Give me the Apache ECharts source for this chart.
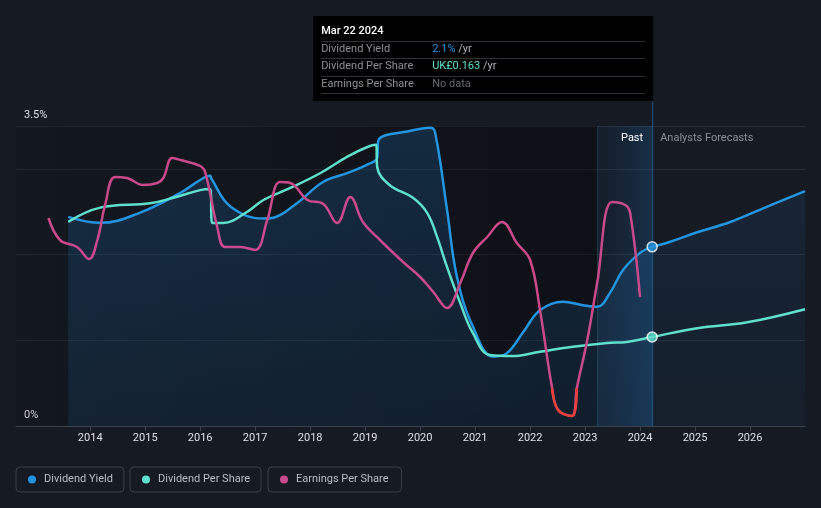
<!DOCTYPE html>
<html>
<head>
<meta charset="utf-8">
<script src="https://cdn.jsdelivr.net/npm/echarts@6/dist/echarts.min.js"></script>
<style>
html,body{margin:0;padding:0;background:#151a23;}
#chart{width:821px;height:508px;}
</style>
</head>
<body>
<div id="chart"></div>
<script>
// Year ticks shown on the x axis
const yearTicks = [2014, 2015, 2016, 2017, 2018, 2019, 2020, 2021, 2022, 2023, 2024, 2025, 2026];
// y axis labels (percent)
const yLabels = [0, 3.5];

// Dividend Yield (%) - past
const yieldPast = [
  [2013.6, 2.44], [2014.18, 2.37], [2014.91, 2.49], [2015.64, 2.72], [2016.0, 2.87],
  [2016.18, 2.92], [2016.2, 2.89], [2016.55, 2.56], [2017.15, 2.42], [2017.33, 2.43],
  [2017.76, 2.60], [2018.24, 2.85], [2018.67, 2.95], [2019.04, 3.05], [2019.22, 3.13],
  [2019.24, 3.33], [2019.87, 3.45], [2020.18, 3.48], [2020.27, 3.43], [2020.49, 2.52],
  [2020.67, 1.74], [2020.96, 1.16], [2021.33, 0.81], [2021.58, 0.85], [2021.87, 1.09],
  [2022.18, 1.35], [2022.6, 1.45], [2022.96, 1.41], [2023.22, 1.39], [2023.45, 1.55],
  [2023.69, 1.82], [2024.0, 2.02], [2024.22, 2.09]
];
// Dividend Yield (%) - analyst forecast
const yieldForecast = [
  [2024.22, 2.09], [2024.55, 2.15], [2025.04, 2.26], [2025.64, 2.38], [2026.24, 2.54], [2027.0, 2.74]
];
// Dividend Per Share (GBP)
const dpsPast = [
  [2013.6, 0.374], [2014.18, 0.400], [2015.09, 0.408], [2015.51, 0.418], [2016.0, 0.432],
  [2016.18, 0.434], [2016.22, 0.372], [2016.42, 0.372], [2016.85, 0.392], [2017.15, 0.414],
  [2017.64, 0.436], [2018.18, 0.463], [2018.67, 0.493], [2019.04, 0.511], [2019.2, 0.515],
  [2019.22, 0.474], [2019.45, 0.441], [2019.87, 0.418], [2020.13, 0.390], [2020.31, 0.346],
  [2020.49, 0.291], [2020.73, 0.225], [2020.96, 0.170], [2021.27, 0.130], [2021.69, 0.128],
  [2022.18, 0.136], [2022.78, 0.145], [2023.4, 0.152], [2023.76, 0.154], [2024.22, 0.163]
];
const dpsForecast = [
  [2024.22, 0.163], [2025.04, 0.179], [2025.95, 0.190], [2027.0, 0.214]
];
// Earnings Per Share (GBP)
const epsPast = [
  [2013.24, 0.170], [2013.45, 0.148], [2013.76, 0.141], [2013.98, 0.129], [2014.13, 0.148],
  [2014.27, 0.183], [2014.45, 0.211], [2014.67, 0.210], [2014.96, 0.203], [2015.22, 0.205],
  [2015.33, 0.210], [2015.49, 0.230], [2015.64, 0.228], [2016.0, 0.222], [2016.09, 0.216],
  [2016.31, 0.161], [2016.45, 0.141], [2016.73, 0.141], [2017.0, 0.138], [2017.22, 0.168],
  [2017.45, 0.206], [2017.64, 0.205], [2017.95, 0.188], [2018.24, 0.184], [2018.49, 0.165],
  [2018.73, 0.191], [2018.96, 0.166], [2019.27, 0.148], [2019.69, 0.126], [2020.0, 0.111],
  [2020.24, 0.096], [2020.49, 0.080], [2020.73, 0.105], [2020.96, 0.135], [2021.22, 0.151],
  [2021.49, 0.166], [2021.76, 0.145], [2022.0, 0.128], [2022.18, 0.078], [2022.4, 0.000],
  [2022.51, -0.022], [2022.76, -0.028], [2022.85, 0.000], [2023.04, 0.048], [2023.22, 0.105],
  [2023.49, 0.186], [2023.73, 0.183], [2023.82, 0.175], [2024.0, 0.091]
];
// Negative-EPS stretch (drawn in red)
const epsNegative = [
  [2022.4, 0.000], [2022.51, -0.022], [2022.76, -0.028], [2022.85, 0.000]
];

const xMin = 2012.65, xMax = 2027.0;
const pastStart = 2023.22;
const nowX = 2024.22;

const chart = echarts.init(document.getElementById('chart'));
const FONT = 'Roboto, "Noto Sans", sans-serif';
const FS = 11;
const SM = 0.4;

const option = {
  backgroundColor: '#151a23',
  animation: false,
  textStyle: { fontFamily: FONT },
  grid: { left: 16, right: 16, top: 126, bottom: 82, containLabel: false },
  xAxis: {
    type: 'value', min: xMin, max: xMax,
    axisLine: { show: true, lineStyle: { color: '#3c424c', width: 1 } },
    axisTick: { show: true, customValues: yearTicks, length: 5, lineStyle: { color: '#3c424c' } },
    axisLabel: { customValues: yearTicks, color: '#dde0e4', fontSize: FS, margin: 7, fontFamily: FONT,
      formatter: v => String(v) },
    splitLine: { show: false }
  },
  yAxis: [
    {
      type: 'value', min: 0, max: 3.5, interval: 1,
      axisLine: { show: false }, axisTick: { show: false },
      axisLabel: {
        customValues: yLabels, inside: true, verticalAlign: 'bottom', margin: 8,
        color: '#dde0e4', fontSize: FS, fontFamily: FONT, padding: [0, 0, 5, 0],
        formatter: v => v + '%'
      },
      splitLine: { show: true, lineStyle: { color: '#262c35', width: 1 } }
    },
    { type: 'value', min: 0, max: 0.5495, show: false, splitLine: { show: false } },
    { type: 'value', min: -0.038, max: 0.262, show: false, splitLine: { show: false } }
  ],
  legend: [
    { data: ['Dividend Yield'], left: 16, padding: [7, 11, 7, 12] },
    { data: ['Dividend Per Share'], left: 130, padding: [7, 11, 7, 12] },
    { data: ['Earnings Per Share'], left: 268, padding: [7, 13, 7, 12] }
  ].map(l => Object.assign({
    top: 467, orient: 'horizontal', icon: 'circle', itemWidth: 8, itemHeight: 8,
    borderColor: '#3a414b', borderWidth: 1, borderRadius: 4,
    selectedMode: false,
    textStyle: { color: '#b9bdc4', fontSize: FS, fontFamily: FONT, padding: [1, 0, 0, 3] }
  }, l)),
  series: [
    {
      name: 'Dividend Yield', type: 'line', data: yieldPast, smooth: SM,
      color: '#2394df', showSymbol: false, z: 3,
      lineStyle: { width: 2.5, color: '#2394df' },
      areaStyle: { color: { type: 'linear', x: 0, y: 0, x2: 0, y2: 1,
        colorStops: [{ offset: 0, color: 'rgba(35,130,210,0.30)' }, { offset: 1, color: 'rgba(35,130,210,0.16)' }] } }
    },
    {
      name: 'Dividend Yield', type: 'line', data: yieldForecast, smooth: SM,
      color: '#2394df', showSymbol: false, z: 3,
      lineStyle: { width: 2.5, color: '#2394df' },
      areaStyle: { color: { type: 'linear', x: 0, y: 0, x2: 0, y2: 1,
        colorStops: [{ offset: 0, color: 'rgba(35,120,200,0.16)' }, { offset: 1, color: 'rgba(35,120,200,0.08)' }] } }
    },
    {
      name: 'Dividend Per Share', type: 'line', yAxisIndex: 1, data: dpsPast.concat(dpsForecast.slice(1)),
      smooth: SM, color: '#5fe0cd', showSymbol: false, z: 4,
      lineStyle: { width: 2.5, color: '#5fe0cd' }
    },
    {
      name: 'Earnings Per Share', type: 'line', yAxisIndex: 2, data: epsPast,
      smooth: SM, color: '#c84a8b', showSymbol: false, z: 5,
      lineStyle: { width: 2.5, color: '#c84a8b' }
    },
    {
      name: 'EPS negative', type: 'line', yAxisIndex: 2, data: epsNegative,
      smooth: SM, showSymbol: false, z: 6,
      lineStyle: { width: 2.5, color: '#e8403a' }
    },
    {
      name: 'markers', type: 'scatter', data: [[nowX, 2.09]], symbolSize: 10, z: 7,
      itemStyle: { color: '#2394df', borderColor: '#ffffff', borderWidth: 1.5 }
    },
    {
      name: 'markers2', type: 'scatter', yAxisIndex: 1, data: [[nowX, 0.163]], symbolSize: 10, z: 7,
      itemStyle: { color: '#5fe0cd', borderColor: '#ffffff', borderWidth: 1.5 }
    }
  ]
};
chart.setOption(option);

// Background bands, tooltip box, labels and cursor line (positions from the axes)
const toPx = (x, y) => chart.convertToPixel({ gridIndex: 0 }, [x, y]);
const pTopLeft = toPx(xMin, 3.5), pPast = toPx(pastStart, 0), pNow = toPx(nowX, 3.5), pBottom = toPx(nowX, 0);
const g = [];
g.push({ type: 'rect', z: 1, silent: true,
  shape: { x: pTopLeft[0], y: pTopLeft[1], width: pPast[0] - pTopLeft[0], height: pPast[1] - pTopLeft[1] },
  style: { fill: { type: 'linear', x: 0, y: 0, x2: 1, y2: 0,
    colorStops: [{ offset: 0, color: 'rgba(0,0,0,0.10)' }, { offset: 1, color: 'rgba(0,0,0,0.36)' }] } } });
g.push({ type: 'rect', z: 1, silent: true,
  shape: { x: pPast[0], y: pTopLeft[1], width: pNow[0] - pPast[0], height: pPast[1] - pTopLeft[1] },
  style: { fill: { type: 'linear', x: 0, y: 0, x2: 1, y2: 0,
    colorStops: [{ offset: 0, color: 'rgba(30,110,190,0.04)' }, { offset: 1, color: 'rgba(30,120,200,0.22)' }] } } });
g.push({ type: 'line', z: 1, silent: true, shape: { x1: pPast[0] + 0.5, y1: pTopLeft[1], x2: pPast[0] + 0.5, y2: pPast[1] },
  style: { stroke: 'rgba(60,110,150,0.35)', lineWidth: 1 } });

const boxR = pNow[0] + 1, boxL = boxR - 340, boxT = 16, boxB = 101;
const rowY = [49, 66, 84];
const sepY = [41, 58, 76, 93];
g.push({ type: 'line', z: 2, silent: true, shape: { x1: pNow[0] + 0.5, y1: boxB, x2: pNow[0] + 0.5, y2: pBottom[1] },
  style: { stroke: 'rgba(40,110,170,0.7)', lineWidth: 1 } });
g.push({ type: 'rect', z: 10, shape: { x: boxL, y: boxT, width: boxR - boxL, height: boxB - boxT }, style: { fill: '#000000' }, silent: true });
g.push({ type: 'text', z: 11, x: boxL + 8, y: 31, style: { text: 'Mar 22 2024', fill: '#ffffff', font: '500 11px ' + FONT, verticalAlign: 'middle' } });
sepY.forEach(y => g.push({ type: 'line', z: 11, shape: { x1: boxL + 8, y1: y + 0.5, x2: boxR - 8, y2: y + 0.5 }, style: { stroke: '#2e3136', lineWidth: 1 }, silent: true }));
const rows = [
  ['Dividend Yield', '{a|2.1%}{u| /yr}'],
  ['Dividend Per Share', '{b|UK£0.163}{u| /yr}'],
  ['Earnings Per Share', '{n|No data}']
];
const f = FS + 'px ' + FONT;
rows.forEach((r, i) => {
  g.push({ type: 'text', z: 11, x: boxL + 8, y: rowY[i], style: { text: r[0], fill: '#8c9097', font: f, verticalAlign: 'middle' } });
  g.push({ type: 'text', z: 11, x: boxL + 119, y: rowY[i], style: { text: r[1], font: f, verticalAlign: 'middle',
    rich: { a: { fill: '#2394df', font: f }, b: { fill: '#5fe0cd', font: f },
      u: { fill: '#b0b3b8', font: f }, n: { fill: '#66696e', font: f } } } });
});
g.push({ type: 'text', z: 11, x: pNow[0] - 9, y: 138, style: { text: 'Past', fill: '#ffffff', font: f, align: 'right', verticalAlign: 'middle' } });
g.push({ type: 'text', z: 11, x: pNow[0] + 8, y: 138, style: { text: 'Analysts Forecasts', fill: '#8a9099', font: f, verticalAlign: 'middle' } });
chart.setOption({ graphic: g });
</script>
</body>
</html>
